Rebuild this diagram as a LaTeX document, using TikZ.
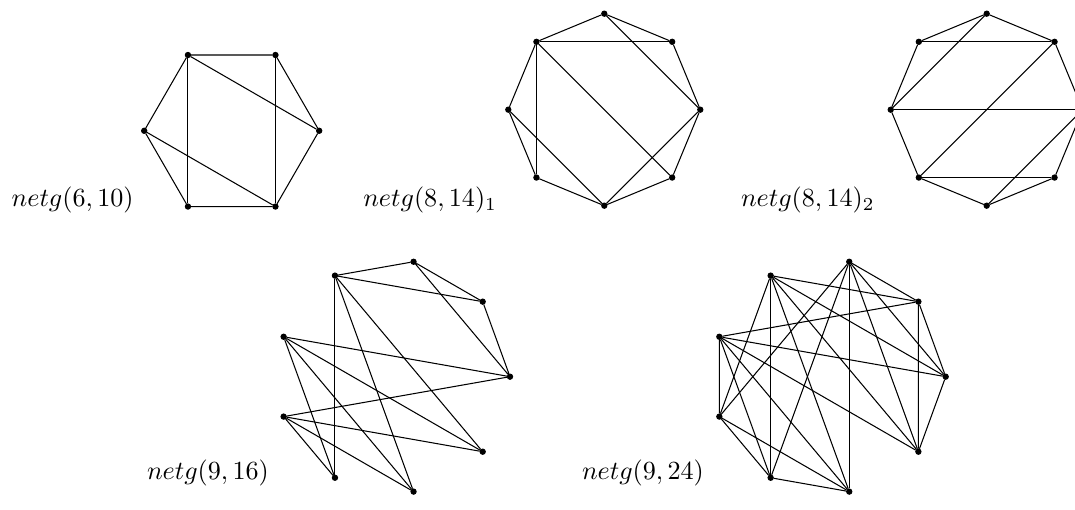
\documentclass[tikz,border=0pt]{standalone}
\usepackage{tikz}

\tikzset{
  vert/.style={circle, fill=black, draw=black, inner sep=0pt, minimum size=2pt},
  edge/.style={draw=black, line width=0.4pt},
  netlabel/.style={anchor=base west, inner sep=0pt, outer sep=0pt}
}

\begin{document}
\begin{tikzpicture}[x=0.01344cm, y=0.01344cm]
  \useasboundingbox (0, 0) rectangle (1075, 510);
  \clip (0, 0) rectangle (1075, 510);

  % netg(6,10)
  \begin{scope}[shift={(231.7, 379.2)}]
    \node[vert] (a1) at (0:87.5) {};
    \node[vert] (a2) at (60:87.5) {};
    \node[vert] (a3) at (120:87.5) {};
    \node[vert] (a4) at (180:87.5) {};
    \node[vert] (a5) at (240:87.5) {};
    \node[vert] (a6) at (300:87.5) {};
  \end{scope}
  \draw[edge] (a1) -- (a2) -- (a3) -- (a4) -- (a5) -- (a6) -- (a1);
  \draw[edge] (a3) -- (a5);
  \draw[edge] (a2) -- (a6);
  \draw[edge] (a3) -- (a1);
  \draw[edge] (a4) -- (a6);
  \node[netlabel] (lab1) at (11.7, 303.2) {$netg(6,10)$};

  % netg(8,14)_1
  \begin{scope}[shift={(604.3, 400.3)}]
    \node[vert] (b1) at (0:96) {};
    \node[vert] (b2) at (45:96) {};
    \node[vert] (b3) at (90:96) {};
    \node[vert] (b4) at (135:96) {};
    \node[vert] (b5) at (180:96) {};
    \node[vert] (b6) at (225:96) {};
    \node[vert] (b7) at (270:96) {};
    \node[vert] (b8) at (315:96) {};
  \end{scope}
  \draw[edge] (b1) -- (b2) -- (b3) -- (b4) -- (b5) -- (b6) -- (b7) -- (b8) -- (b1);
  \draw[edge] (b4) -- (b2);
  \draw[edge] (b4) -- (b6);
  \draw[edge] (b4) -- (b8);
  \draw[edge] (b3) -- (b1);
  \draw[edge] (b5) -- (b7);
  \draw[edge] (b7) -- (b1);
  \node[netlabel] (lab2) at (363.3, 303.2) {$netg(8,14)_1$};

  % netg(8,14)_2
  \begin{scope}[shift={(986.7, 400.3)}]
    \node[vert] (c1) at (0:96) {};
    \node[vert] (c2) at (45:96) {};
    \node[vert] (c3) at (90:96) {};
    \node[vert] (c4) at (135:96) {};
    \node[vert] (c5) at (180:96) {};
    \node[vert] (c6) at (225:96) {};
    \node[vert] (c7) at (270:96) {};
    \node[vert] (c8) at (315:96) {};
  \end{scope}
  \draw[edge] (c1) -- (c2) -- (c3) -- (c4) -- (c5) -- (c6) -- (c7) -- (c8) -- (c1);
  \draw[edge] (c4) -- (c2);
  \draw[edge] (c5) -- (c1);
  \draw[edge] (c6) -- (c8);
  \draw[edge] (c3) -- (c5);
  \draw[edge] (c2) -- (c6);
  \draw[edge] (c1) -- (c7);
  \node[netlabel] (lab3) at (741, 303.2) {$netg(8,14)_2$};

  % netg(9,16)
  \begin{scope}[shift={(393.3, 133.3)}]
    \node[vert] (d1) at (0:116.7) {};
    \node[vert] (d2) at (40:116.7) {};
    \node[vert] (d3) at (80:116.7) {};
    \node[vert] (d4) at (120:116.7) {};
    \node[vert] (d5) at (160:116.7) {};
    \node[vert] (d6) at (200:116.7) {};
    \node[vert] (d7) at (240:116.7) {};
    \node[vert] (d8) at (280:116.7) {};
    \node[vert] (d9) at (320:116.7) {};
  \end{scope}
  \draw[edge] (d4) -- (d3) -- (d2) -- (d1) -- (d3);
  \draw[edge] (d4) -- (d2);
  \draw[edge] (d4) -- (d7);
  \draw[edge] (d4) -- (d8);
  \draw[edge] (d4) -- (d9);
  \draw[edge] (d5) -- (d1);
  \draw[edge] (d5) -- (d7);
  \draw[edge] (d5) -- (d8);
  \draw[edge] (d5) -- (d9);
  \draw[edge] (d6) -- (d1);
  \draw[edge] (d6) -- (d7);
  \draw[edge] (d6) -- (d8);
  \draw[edge] (d6) -- (d9);
  \node[netlabel] (lab4) at (147, 30) {$netg(9,16)$};

  % netg(9,24)
  \begin{scope}[shift={(829, 133.3)}]
    \node[vert] (e1) at (0:116.7) {};
    \node[vert] (e2) at (40:116.7) {};
    \node[vert] (e3) at (80:116.7) {};
    \node[vert] (e4) at (120:116.7) {};
    \node[vert] (e5) at (160:116.7) {};
    \node[vert] (e6) at (200:116.7) {};
    \node[vert] (e7) at (240:116.7) {};
    \node[vert] (e8) at (280:116.7) {};
    \node[vert] (e9) at (320:116.7) {};
  \end{scope}
  \draw[edge] (e4) -- (e2);
  \draw[edge] (e4) -- (e1);
  \draw[edge] (e4) -- (e9);
  \draw[edge] (e4) -- (e8);
  \draw[edge] (e4) -- (e7);
  \draw[edge] (e4) -- (e6);
  \draw[edge] (e3) -- (e2);
  \draw[edge] (e3) -- (e1);
  \draw[edge] (e3) -- (e9);
  \draw[edge] (e3) -- (e8);
  \draw[edge] (e3) -- (e7);
  \draw[edge] (e3) -- (e6);
  \draw[edge] (e2) -- (e1) -- (e9) -- (e2);
  \draw[edge] (e2) -- (e5);
  \draw[edge] (e1) -- (e5);
  \draw[edge] (e9) -- (e5);
  \draw[edge] (e5) -- (e6) -- (e7) -- (e8) -- (e5);
  \draw[edge] (e5) -- (e7);
  \draw[edge] (e6) -- (e8);
  \node[netlabel] (lab5) at (582, 30) {$netg(9,24)$};
\end{tikzpicture}
\end{document}
